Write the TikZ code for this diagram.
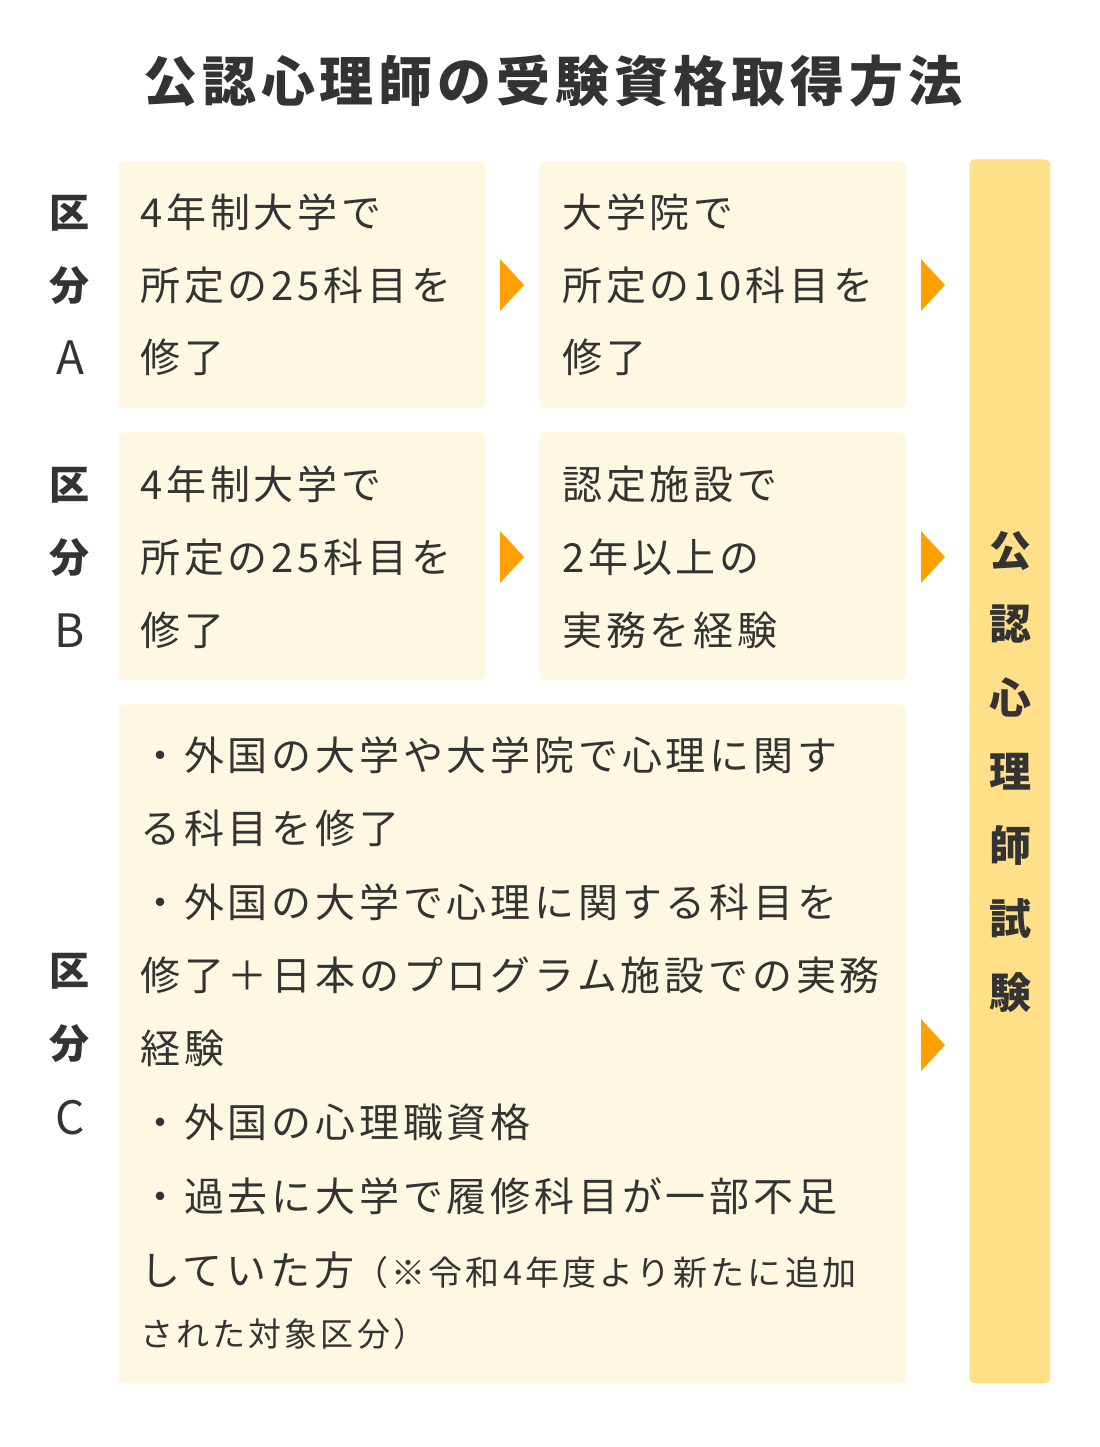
\documentclass[tikz,border=0pt]{standalone}
\usepackage{fontspec}
\newfontfamily\jp[LetterSpace=9.5]{Noto Sans CJK JP}
\newfontfamily\jpt[LetterSpace=9]{Noto Sans CJK JP}
\newfontfamily\jpn{Noto Sans CJK JP}
\definecolor{textc}{HTML}{333333}
\definecolor{boxc}{HTML}{FEF7E2}
\definecolor{barc}{HTML}{FFDF88}
\definecolor{arrowc}{HTML}{FF9F00}
\begin{document}
\begin{tikzpicture}[x=0.75pt,y=-0.75pt,
  txt/.style={anchor=base west,inner sep=0pt,text=textc,font=\jp\fontsize{30}{36}\selectfont},
  lab/.style={anchor=base,inner sep=0pt,text=textc,font=\jpn\bfseries\fontsize{30}{36}\selectfont},
  labl/.style={anchor=base,inner sep=0pt,text=textc,font=\jpn\fontsize{34.5}{40}\selectfont},
  vt/.style={anchor=base,inner sep=0pt,text=textc,font=\jpn\bfseries\fontsize{31.5}{36}\selectfont},
  box/.style={fill=boxc,rounded corners=4.5pt,draw=none,inner sep=0pt,anchor=north west},
  bar/.style={fill=barc,rounded corners=4.5pt,draw=none,inner sep=0pt,anchor=north west},
  tri/.style={fill=arrowc}]
\useasboundingbox (0,0) rectangle (1100,1447);
\node[anchor=center,inner sep=0pt,text=textc,font=\jpt\bfseries\fontsize{40.5}{48}\selectfont] (title) at (553,81) {公認心理師の受験資格取得方法};
% boxes
\node[box,minimum width=275.25pt,minimum height=185.25pt] (a1) at (118,161) {};
\node[box,minimum width=275.25pt,minimum height=185.25pt] (a2) at (539,161) {};
\node[box,minimum width=275.25pt,minimum height=186pt] (b1) at (118,432) {};
\node[box,minimum width=275.25pt,minimum height=186pt] (b2) at (539,432) {};
\node[box,minimum width=591pt,minimum height=509.25pt] (c) at (118,704) {};
\node[bar,minimum width=60.75pt,minimum height=918pt] (exam) at (969,159) {};
% arrows
\fill[tri] (500,259) -- (524,285) -- (500,311) -- cycle;
\fill[tri] (921,259) -- (945,285) -- (921,311) -- cycle;
\fill[tri] (500,531) -- (524,557) -- (500,583) -- cycle;
\fill[tri] (921,531) -- (945,557) -- (921,583) -- cycle;
\fill[tri] (921,1019) -- (945,1045) -- (921,1071) -- cycle;
% labels
\node[lab] (la1) at (70,227) {区};
\node[lab] (la2) at (70,300) {分};
\node[labl] (la3) at (70,374) {A};
\node[lab] (lb1) at (70,499) {区};
\node[lab] (lb2) at (70,572) {分};
\node[labl] (lb3) at (70,647) {B};
\node[lab] (lc1) at (70,985) {区};
\node[lab] (lc2) at (70,1058) {分};
\node[labl] (lc3) at (70,1134) {C};
% box A1
\node[txt] (a1t1) at (140,227) {4年制大学で};
\node[txt] (a1t2) at (140,300) {所定の25科目を};
\node[txt] (a1t3) at (140,372) {修了};
% box A2
\node[txt] (a2t1) at (562,227) {大学院で};
\node[txt] (a2t2) at (562,300) {所定の10科目を};
\node[txt] (a2t3) at (562,372) {修了};
% box B1
\node[txt] (b1t1) at (140,499) {4年制大学で};
\node[txt] (b1t2) at (140,572) {所定の25科目を};
\node[txt] (b1t3) at (140,645) {修了};
% box B2
\node[txt] (b2t1) at (562,499) {認定施設で};
\node[txt] (b2t2) at (562,572) {2年以上の};
\node[txt] (b2t3) at (562,645) {実務を経験};
% box C
\node[txt] (ct1) at (140,770) {・外国の大学や大学院で心理に関す};
\node[txt] (ct2) at (140,843) {る科目を修了};
\node[txt] (ct3) at (140,917) {・外国の大学で心理に関する科目を};
\node[txt] (ct4) at (140,990) {修了＋日本のプログラム施設での実務};
\node[txt] (ct5) at (140,1063) {経験};
\node[txt] (ct6) at (140,1137) {・外国の心理職資格};
\node[txt] (ct7) at (140,1211) {・過去に大学で履修科目が一部不足};
\node[txt] (ct8) at (140,1285) {していた方{\fontsize{25.5}{30}\selectfont （※令和4年度より新たに追加}};
\node[txt,font=\jp\fontsize{24.75}{30}\selectfont] (ct9) at (140,1346) {された対象区分）};
% vertical text
\node[vt] (e1) at (1010,566) {公};
\node[vt] (e2) at (1010,639) {認};
\node[vt] (e3) at (1010,713) {心};
\node[vt] (e4) at (1010,787) {理};
\node[vt] (e5) at (1010,861) {師};
\node[vt] (e6) at (1010,934) {試};
\node[vt] (e7) at (1010,1008) {験};
\end{tikzpicture}
\end{document}
